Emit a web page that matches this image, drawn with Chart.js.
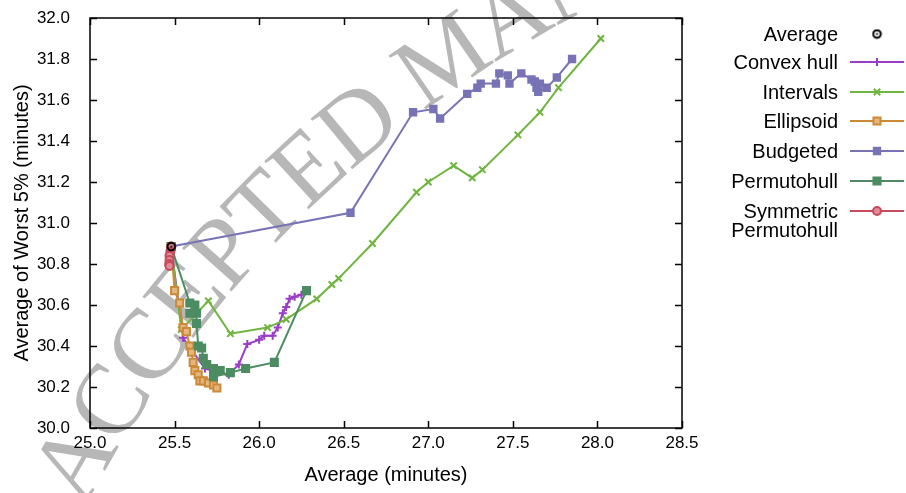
<!DOCTYPE html>
<html>
<head>
<meta charset="utf-8">
<script src="https://cdn.jsdelivr.net/npm/chart.js@4.4.1/dist/chart.umd.min.js"></script>
<style>
  html, body { margin: 0; padding: 0; background: #fff; }
  #wrap { width: 906px; height: 493px; }
</style>
</head>
<body>
<div id="wrap"><canvas id="chart" width="906" height="493"></canvas></div>
<script>
// --- data --------------------------------------------------------------------
const xTicks = [25.0, 25.5, 26.0, 26.5, 27.0, 27.5, 28.0, 28.5];
const yTicks = [30.0, 30.2, 30.4, 30.6, 30.8, 31.0, 31.2, 31.4, 31.6, 31.8, 32.0];

const averageX = [25.48];
const averageY = [30.885];

const convexX = [25.48, 25.55, 25.68, 25.82, 25.88, 25.93, 26.00, 26.03, 26.08, 26.11, 26.14, 26.16, 26.18, 26.21, 26.25];
const convexY = [30.885, 30.44, 30.29, 30.26, 30.31, 30.41, 30.43, 30.45, 30.45, 30.49, 30.56, 30.59, 30.63, 30.64, 30.65];

const intervalsX = [25.48, 25.54, 25.70, 25.83, 26.05, 26.16, 26.34, 26.43, 26.47, 26.67, 26.93, 27.00, 27.15, 27.26, 27.32, 27.53, 27.66, 27.77, 28.02];
const intervalsY = [30.885, 30.48, 30.62, 30.46, 30.49, 30.53, 30.63, 30.70, 30.73, 30.90, 31.15, 31.20, 31.28, 31.22, 31.26, 31.43, 31.54, 31.66, 31.90];

const ellipsoidX = [25.48, 25.50, 25.53, 25.55, 25.57, 25.59, 25.60, 25.61, 25.62, 25.64, 25.65, 25.67, 25.70, 25.73, 25.75];
const ellipsoidY = [30.885, 30.67, 30.61, 30.49, 30.47, 30.40, 30.37, 30.32, 30.28, 30.26, 30.23, 30.23, 30.22, 30.21, 30.195];

const budgetedX = [25.48, 26.54, 26.91, 27.03, 27.07, 27.23, 27.29, 27.31, 27.40, 27.42, 27.47, 27.48, 27.55, 27.61, 27.63, 27.64, 27.66, 27.65, 27.70, 27.76, 27.85];
const budgetedY = [30.885, 31.05, 31.54, 31.556, 31.51, 31.63, 31.66, 31.68, 31.68, 31.73, 31.72, 31.68, 31.73, 31.70, 31.69, 31.66, 31.68, 31.64, 31.66, 31.71, 31.80];

const permutoX = [25.48, 25.59, 25.62, 25.59, 25.63, 25.63, 25.64, 25.66, 25.67, 25.69, 25.73, 25.77, 25.73, 25.83, 25.92, 26.09, 26.28];
const permutoY = [30.885, 30.61, 30.60, 30.56, 30.56, 30.51, 30.40, 30.39, 30.34, 30.31, 30.29, 30.28, 30.25, 30.27, 30.29, 30.32, 30.67];

const symX = [25.48, 25.475, 25.47, 25.47, 25.468, 25.47];
const symY = [30.885, 30.86, 30.84, 30.82, 30.80, 30.79];

// ------------------------------------------------------------------------------
const FONT = "'Liberation Sans', Arial, Helvetica, sans-serif";
Chart.defaults.font.family = FONT;
Chart.defaults.font.size = 17;
Chart.defaults.color = '#000';

function pts(xs, ys) {
  return xs.map(function (x, i) { return { x: x, y: ys[i] }; });
}

// black ring with a dot, used for the "Average" marker
function makeAvgMarker() {
  const c = document.createElement('canvas');
  c.width = 11; c.height = 11;
  const g = c.getContext('2d');
  g.strokeStyle = '#000';
  g.lineWidth = 2;
  g.beginPath(); g.arc(5.5, 5.5, 3.8, 0, Math.PI * 2); g.stroke();
  g.fillStyle = '#000';
  g.beginPath(); g.arc(5.5, 5.5, 1.1, 0, Math.PI * 2); g.fill();
  return c;
}
const avgMarker = makeAvgMarker();

function series(label, xs, ys, color, style, radius, bg, order) {
  return {
    label: label,
    data: pts(xs, ys),
    showLine: true,
    borderColor: color,
    borderWidth: 2,
    pointStyle: style,
    pointRadius: radius,
    pointBorderWidth: 2,
    pointBorderColor: color,
    pointBackgroundColor: bg || color,
    order: order,
    legendLines: label === 'Symmetric Permutohull' ? ['Symmetric', 'Permutohull'] : [label]
  };
}

const datasets = [
  {
    label: 'Average', data: pts(averageX, averageY), showLine: false,
    pointStyle: avgMarker, pointRadius: 5, order: 0, legendLines: ['Average']
  },
  series('Convex hull', convexX, convexY, '#9a3dc7', 'cross', 4, null, 7),
  series('Intervals', intervalsX, intervalsY, '#6fb540', 'crossRot', 4.5, null, 6),
  series('Ellipsoid', ellipsoidX, ellipsoidY, '#cc8a38', 'rect', 5, '#e3b57f', 5),
  series('Budgeted', budgetedX, budgetedY, '#7773b5', 'rect', 4.5, '#7773b5', 4),
  series('Permutohull', permutoX, permutoY, '#4d8c62', 'rect', 5, '#4d8c62', 3),
  series('Symmetric Permutohull', symX, symY, '#c74b5a', 'circle', 4, '#e08a95', 2)
];

// gray stamp behind the plot
const wmText = 'ACCEPTED MANUSCRIPT';
function drawWatermark(ctx) {
  ctx.save();
  ctx.font = "100px 'Liberation Serif', 'DejaVu Serif', serif";
  ctx.fillStyle = '#b7b7b7';
  ctx.textAlign = 'center';
  ctx.textBaseline = 'alphabetic';
  const cx = 1132, cy = 1062, R = 1185, Rm = 1218;
  const chars = wmText.split('');
  let pos = 0;
  const centers = chars.map(function (ch) {
    const w = ctx.measureText(ch).width;
    const c = pos + w / 2; pos += w; return c;
  });
  const anchor = 224.47 * Math.PI / 180;
  chars.forEach(function (ch, i) {
    const th = anchor + (centers[i] - centers[5]) / Rm;
    ctx.save();
    ctx.translate(cx + R * Math.cos(th), cy + R * Math.sin(th));
    ctx.rotate(th + Math.PI / 2);
    ctx.fillText(ch, 0, 0);
    ctx.restore();
  });
  ctx.restore();
}

const backgroundPlugin = {
  id: 'bg',
  beforeDraw: function (chart) {
    const ctx = chart.ctx;
    ctx.save();
    ctx.fillStyle = '#fff';
    ctx.fillRect(0, 0, chart.width, chart.height);
    ctx.restore();
    drawWatermark(ctx);
  }
};

// gnuplot-like frame with inward ticks on all four sides
const framePlugin = {
  id: 'frame',
  afterDatasetsDraw: function (chart) {
    const ctx = chart.ctx, a = chart.chartArea;
    const sx = chart.scales.x, sy = chart.scales.y;
    const tl = 7;
    ctx.save();
    ctx.strokeStyle = '#000';
    ctx.lineWidth = 1.5;
    ctx.beginPath();
    xTicks.forEach(function (v) {
      const px = Math.round(sx.getPixelForValue(v)) + 0.5;
      ctx.moveTo(px, a.bottom); ctx.lineTo(px, a.bottom - tl);
      ctx.moveTo(px, a.top); ctx.lineTo(px, a.top + tl);
    });
    yTicks.forEach(function (v) {
      const py = Math.round(sy.getPixelForValue(v)) + 0.5;
      ctx.moveTo(a.left, py); ctx.lineTo(a.left + tl, py);
      ctx.moveTo(a.right, py); ctx.lineTo(a.right - tl, py);
    });
    ctx.stroke();
    ctx.strokeRect(a.left, a.top, a.right - a.left, a.bottom - a.top);
    ctx.restore();
  }
};

// key on the right: right-aligned labels, line sample with marker
const keyPlugin = {
  id: 'key',
  afterDraw: function (chart) {
    const ctx = chart.ctx;
    const rows = [34, 62, 92, 121, 151, 181, 211];
    ctx.save();
    ctx.font = '20px ' + FONT;
    ctx.textAlign = 'right';
    ctx.textBaseline = 'middle';
    chart.data.datasets.forEach(function (ds, i) {
      const y = rows[i];
      ctx.fillStyle = '#000';
      ds.legendLines.forEach(function (t, k) { ctx.fillText(t, 838, y + 1 + k * 19); });
      if (ds.showLine) {
        ctx.strokeStyle = ds.borderColor;
        ctx.lineWidth = 2;
        ctx.beginPath(); ctx.moveTo(850, y); ctx.lineTo(904, y); ctx.stroke();
      }
      ctx.strokeStyle = ds.pointBorderColor || '#000';
      ctx.fillStyle = ds.pointBackgroundColor || '#000';
      ctx.lineWidth = ds.pointBorderWidth || 1;
      Chart.helpers.drawPoint(ctx, { pointStyle: ds.pointStyle, radius: ds.pointRadius, rotation: 0, borderWidth: ds.pointBorderWidth || 1 }, 877, y);
    });
    ctx.restore();
  }
};

new Chart(document.getElementById('chart'), {
  type: 'scatter',
  data: { datasets: datasets },
  plugins: [backgroundPlugin, framePlugin, keyPlugin],
  options: {
    responsive: false,
    animation: false,
    layout: { padding: { left: 0, top: 18, right: 224, bottom: 0 } },
    plugins: { legend: { display: false }, tooltip: { enabled: false } },
    elements: { line: { tension: 0 } },
    scales: {
      x: {
        type: 'linear', min: 25, max: 28.5,
        afterFit: function (s) { s.height = 65; s.paddingLeft = 0; s.paddingRight = 0; },
        afterBuildTicks: function (s) { s.ticks = xTicks.map(function (v) { return { value: v }; }); },
        ticks: { padding: 5, maxRotation: 0, callback: function (v) { return v.toFixed(1); } },
        grid: { display: false, drawTicks: false },
        border: { display: false },
        title: { display: true, text: 'Average (minutes)', font: { size: 20 }, padding: { top: 0, bottom: 6 } }
      },
      y: {
        type: 'linear', min: 30, max: 32,
        afterFit: function (s) { s.width = 90; s.paddingTop = 0; s.paddingBottom = 0; },
        afterBuildTicks: function (s) { s.ticks = yTicks.map(function (v) { return { value: v }; }); },
        ticks: { padding: 20, callback: function (v) { return v.toFixed(1); } },
        grid: { display: false, drawTicks: false },
        border: { display: false },
        title: { display: true, text: 'Average of Worst 5% (minutes)', font: { size: 20 }, padding: { top: 10, bottom: 0 } }
      }
    }
  }
});
</script>
</body>
</html>
